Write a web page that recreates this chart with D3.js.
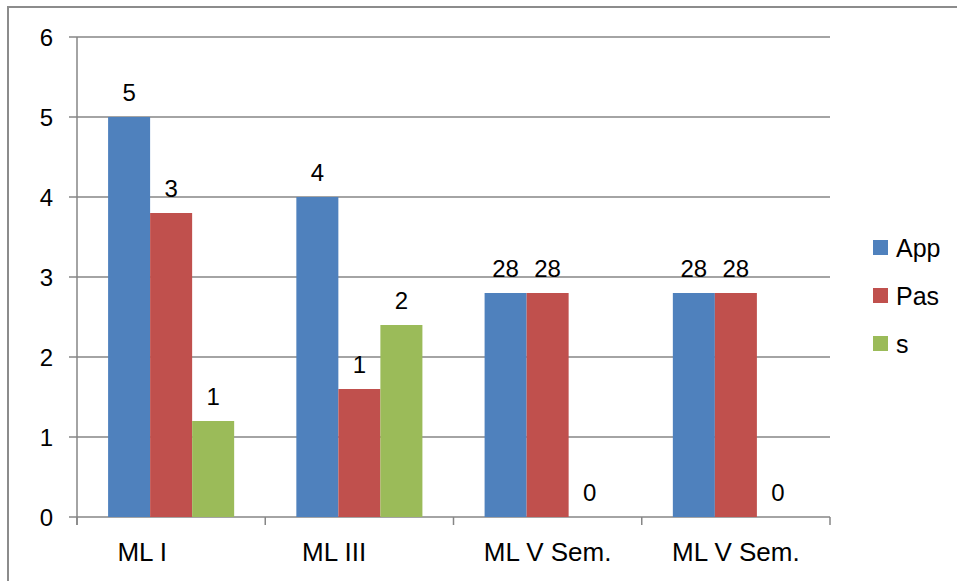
<!DOCTYPE html>
<html>
<head>
<meta charset="utf-8">
<script src="https://cdn.jsdelivr.net/npm/d3@7"></script>
<style>
  body { margin: 0; background: #fff; }
  text { font-family: "Liberation Sans", Arial, sans-serif; fill: #000; white-space: pre; }
</style>
</head>
<body>
<svg id="chart" width="957" height="581"></svg>
<script>
// the first two category names carry trailing spaces in the source sheet
let categories = ['ML I        ', 'ML III       ', 'ML V Sem.', 'ML V Sem.']
let seriesNames = ['App', 'Pas', 's']
let colors = ['#4F81BD', '#C0504D', '#9BBB59']
// bar heights as drawn
let appValues = [5, 4, 2.8, 2.8]
let pasValues = [3.8, 1.6, 2.8, 2.8]
let sValues = [1.2, 2.4, 0, 0]
// data labels as printed on the chart
let appLabels = ['5', '4', '28', '28']
let pasLabels = ['3', '1', '28', '28']
let sLabels = ['1', '2', '0', '0']
let yTicks = [0, 1, 2, 3, 4, 5, 6]

let values = [appValues, pasValues, sValues]
let labels = [appLabels, pasLabels, sLabels]

let svg = d3.select('#chart')

// outer chart frame (right and bottom edges fall off the picture)
svg.append('rect')
    .attr('x', 8).attr('y', 7)
    .attr('width', 1000).attr('height', 1000)
    .attr('fill', 'none')
    .attr('stroke', '#8c8c8c')
    .attr('stroke-width', 2)

const plotLeft = 77, plotRight = 830, plotTop = 37, plotBottom = 517

let x = d3.scaleBand()
    .domain(d3.range(categories.length))
    .range([plotLeft, plotRight])
    .paddingInner(0)
    .paddingOuter(0)

let inner = d3.scaleBand()
    .domain(seriesNames)
    .range([0, x.bandwidth()])
    .paddingOuter(0.74)
    .paddingInner(0)

let y = d3.scaleLinear().domain([0, 6]).range([plotBottom, plotTop])

// gridlines and y ticks
svg.append('g').selectAll('line')
    .data(yTicks)
    .enter()
    .append('line')
    .attr('x1', plotLeft - 8)
    .attr('x2', plotRight)
    .attr('y1', d => y(d))
    .attr('y2', d => y(d))
    .attr('stroke', '#868686')
    .attr('stroke-width', 1.5)

svg.append('g').selectAll('text')
    .data(yTicks)
    .enter()
    .append('text')
    .attr('x', 53)
    .attr('y', d => y(d) + 8.5)
    .attr('text-anchor', 'end')
    .style('font-size', '24px')
    .text(d => d)

// y axis line
svg.append('line')
    .attr('x1', plotLeft).attr('x2', plotLeft)
    .attr('y1', plotTop).attr('y2', plotBottom + 8)
    .attr('stroke', '#868686')
    .attr('stroke-width', 1.5)

// x category ticks
svg.append('g').selectAll('line')
    .data(d3.range(categories.length + 1))
    .enter()
    .append('line')
    .attr('x1', i => plotLeft + i * x.bandwidth())
    .attr('x2', i => plotLeft + i * x.bandwidth())
    .attr('y1', plotBottom)
    .attr('y2', plotBottom + 8)
    .attr('stroke', '#868686')
    .attr('stroke-width', 1.5)

// bars
seriesNames.forEach((name, s) => {
    let g = svg.append('g')
    g.selectAll('rect')
        .data(values[s])
        .enter()
        .append('rect')
        .attr('x', (d, i) => x(i) + inner(name))
        .attr('y', d => y(d))
        .attr('width', inner.bandwidth())
        .attr('height', d => plotBottom - y(d))
        .attr('fill', colors[s])

    g.selectAll('text')
        .data(values[s])
        .enter()
        .append('text')
        .attr('x', (d, i) => x(i) + inner(name) + inner.bandwidth() / 2)
        .attr('y', d => y(d) - 16)
        .attr('text-anchor', 'middle')
        .style('font-size', '24px')
        .text((d, i) => labels[s][i])
})

// category labels
svg.append('g').selectAll('text')
    .data(categories)
    .enter()
    .append('text')
    .attr('x', (d, i) => x(i) + x.bandwidth() / 2)
    .attr('y', 561)
    .attr('text-anchor', 'middle')
    .style('font-size', '26px')
    .text(d => d)

// legend
let legend = svg.append('g')
    .selectAll('g')
    .data(seriesNames)
    .enter()
    .append('g')
    .attr('transform', (d, i) => `translate(873, ${240 + i * 48})`)

legend.append('rect')
    .attr('width', 15)
    .attr('height', 15)
    .attr('fill', (d, i) => colors[i])

legend.append('text')
    .attr('x', 23)
    .attr('y', 17)
    .style('font-size', '25px')
    .text(d => d)
</script>
</body>
</html>
